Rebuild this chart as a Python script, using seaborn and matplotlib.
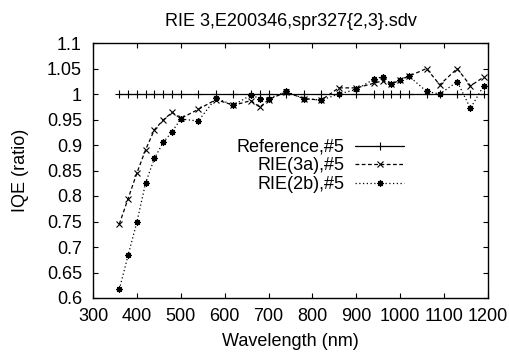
import numpy as np
import pandas as pd
import matplotlib
matplotlib.use("Agg")
import matplotlib.pyplot as plt
import seaborn as sns
from matplotlib.ticker import MultipleLocator, FuncFormatter

# ---------------------------
# Data
# ---------------------------
wavelength = [360, 380, 400, 420, 440, 460, 480, 500, 540, 580, 620, 660, 680,
              700, 740, 780, 820, 860, 900, 940, 960, 980, 1000, 1020, 1060,
              1090, 1130, 1160, 1190]
iqe_reference = [1.0] * len(wavelength)
iqe_rie_3a = [0.745, 0.795, 0.845, 0.891, 0.930, 0.949, 0.964, 0.952, 0.970,
              0.989, 0.978, 0.987, 0.974, 0.989, 1.004, 0.991, 0.988, 1.012,
              1.012, 1.021, 1.026, 1.019, 1.028, 1.035, 1.050, 1.018, 1.050,
              1.016, 1.033]
iqe_rie_2b = [0.617, 0.684, 0.749, 0.826, 0.874, 0.905, 0.926, 0.951, 0.947,
              0.992, 0.978, 0.998, 0.991, 0.991, 1.005, 0.991, 0.988, 1.000,
              1.009, 1.029, 1.034, 1.019, 1.028, 1.035, 1.005, 1.000, 1.024,
              0.972, 1.016]
series_labels = ["Reference,#5", "RIE(3a),#5", "RIE(2b),#5"]
title_text = "RIE 3,E200346,spr327{2,3}.sdv"

df = pd.DataFrame({
    "wavelength": wavelength,
    "ref": iqe_reference,
    "rie3a": iqe_rie_3a,
    "rie2b": iqe_rie_2b,
})

sns.set_theme(style="ticks")
plt.rcParams["font.family"] = ["Liberation Sans", "DejaVu Sans"]
FS = 13

fig = plt.figure(figsize=(5.09, 3.54), dpi=100)
ax = fig.add_axes([93 / 509, 1 - 298 / 354, 395 / 509, 255 / 354])

common = dict(ax=ax, color="black", linewidth=0.9, markeredgecolor="black",
              markerfacecolor="black")
sns.lineplot(data=df, x="wavelength", y="ref", marker="+", markersize=6,
             markeredgewidth=0.8, label=series_labels[0], **common)
sns.lineplot(data=df, x="wavelength", y="rie3a", linestyle=(0, (3, 2)),
             marker="x", markersize=4.5, markeredgewidth=0.8,
             label=series_labels[1], **common)
sns.lineplot(data=df, x="wavelength", y="rie2b", linestyle=(0, (1, 2)),
             marker=(8, 2, 0), markersize=4.5, markeredgewidth=0.9,
             label=series_labels[2], **common)

ax.set_xlim(300, 1200)
ax.set_ylim(0.6, 1.1)
ax.xaxis.set_major_locator(MultipleLocator(100))
ax.yaxis.set_major_locator(MultipleLocator(0.05))
ax.yaxis.set_major_formatter(FuncFormatter(lambda v, p: "%g" % round(v, 3)))

for side in ["top", "right", "bottom", "left"]:
    ax.spines[side].set_visible(True)
    ax.spines[side].set_color("black")
    ax.spines[side].set_linewidth(1.0)

ax.tick_params(axis="both", which="major", direction="in", length=3.5,
               width=0.8, color="black", labelsize=FS, labelcolor="black",
               top=True, right=True)
ax.tick_params(axis="x", pad=7)
ax.tick_params(axis="y", pad=8)

ax.set_title(title_text, fontsize=FS, color="black", pad=12)
ax.set_xlabel("Wavelength (nm)", fontsize=FS, color="black", labelpad=6)
ax.set_ylabel("IQE (ratio)", fontsize=FS, color="black", labelpad=13)

leg = ax.legend(loc="upper right", bbox_to_anchor=((404 - 93) / 395, (298 - 139) / 255),
                frameon=False, markerfirst=False, fontsize=FS, borderpad=0,
                borderaxespad=0, handlelength=2.7, handletextpad=0.6,
                labelspacing=0.08)
for t in leg.get_texts():
    t.set_color("black")

fig.savefig("out.png", dpi=100)
plt.close(fig)
